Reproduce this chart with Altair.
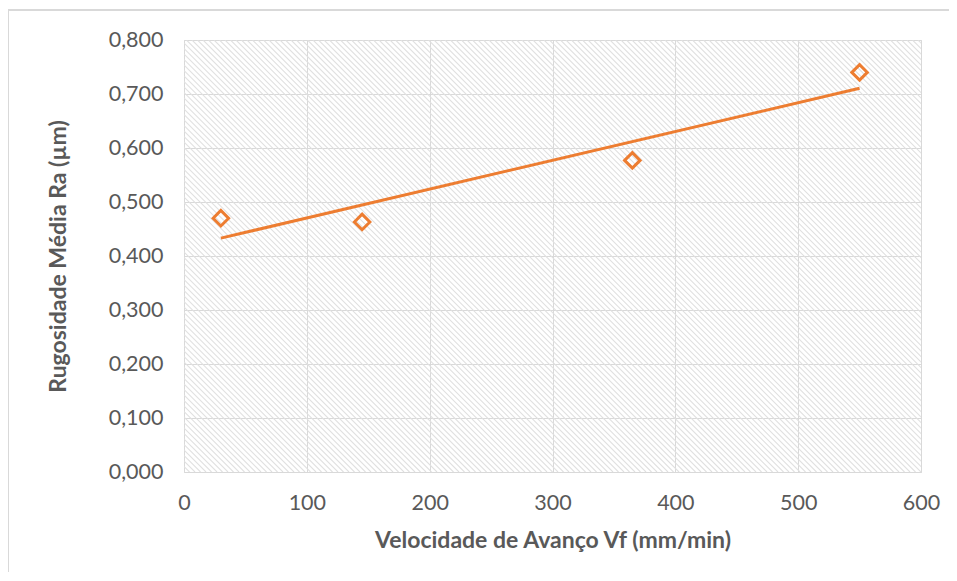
import altair as alt
import pandas as pd
import numpy as np

# ---- data ----
vf = [30, 145, 365, 550]              # Velocidade de Avanço Vf (mm/min)
ra = [0.470, 0.463, 0.577, 0.740]     # Rugosidade Média Ra (µm)
x_ticks = [0, 100, 200, 300, 400, 500, 600]
y_ticks = [0.0, 0.1, 0.2, 0.3, 0.4, 0.5, 0.6, 0.7, 0.8]

ORANGE = "#ED7D31"
GREY_TXT = "#595959"
GRID = "#d9d9d9"
FONT = "Lato"

W, H = 737, 432
XMAX, YMAX = 600, 0.8

df = pd.DataFrame({"vf": vf, "ra": ra})

# decorative diagonal hatch of the plot background (Excel pattern fill)
px_x = W / XMAX
step = 5.5
starts = np.arange(-H, W + step, step)
hatch = pd.DataFrame({
    "hx": starts / px_x,
    "hy": YMAX,
    "hx2": (starts + H) / px_x,
    "hy2": 0.0,
})

xscale = alt.Scale(domain=[0, XMAX], nice=False, zero=True)
yscale = alt.Scale(domain=[0, YMAX], nice=False, zero=True)

xaxis = alt.Axis(
    values=x_ticks, title="Velocidade de Avanço Vf (mm/min)", grid=True,
    gridColor=GRID, gridWidth=1, domain=False, ticks=False, labelFlush=False,
    labelFont=FONT, labelFontSize=21.5, labelColor=GREY_TXT, labelPadding=20,
    titleFont=FONT, titleFontSize=23, titleColor=GREY_TXT, titleFontWeight="bold",
    titlePadding=16,
)
yaxis = alt.Axis(
    values=y_ticks, title="Rugosidade Média Ra (µm)", grid=True,
    gridColor=GRID, gridWidth=1, domain=False, ticks=False, labelFlush=False,
    labelExpr="replace(format(datum.value, '.3f'), '.', ',')",
    labelFont=FONT, labelFontSize=21.5, labelColor=GREY_TXT, labelPadding=21,
    titleFont=FONT, titleFontSize=23, titleColor=GREY_TXT, titleFontWeight="bold",
    titlePadding=38,
)

hatch_layer = alt.Chart(hatch).mark_rule(
    color="#e0e0e0", strokeWidth=1.1, clip=True
).encode(
    x=alt.X("hx:Q", scale=xscale, axis=xaxis),
    x2="hx2:Q",
    y=alt.Y("hy:Q", scale=yscale, axis=yaxis),
    y2="hy2:Q",
)

trend = alt.Chart(df).transform_regression("vf", "ra").mark_line(
    color=ORANGE, strokeWidth=3
).encode(
    x=alt.X("vf:Q", scale=xscale, axis=xaxis),
    y=alt.Y("ra:Q", scale=yscale, axis=yaxis),
)

points = alt.Chart(df).mark_point(
    shape="diamond", filled=False, stroke=ORANGE, strokeWidth=3, size=240, opacity=1
).encode(
    x=alt.X("vf:Q", scale=xscale, axis=xaxis),
    y=alt.Y("ra:Q", scale=yscale, axis=yaxis),
)

frame = alt.Chart(alt.Data(values=[{"a": 1}])).mark_rect(
    filled=False, stroke=GRID, strokeWidth=2, clip=False
).encode(
    x=alt.value(-176), x2=alt.value(W + 60),
    y=alt.value(-30), y2=alt.value(H + 140),
)

chart = alt.layer(frame, hatch_layer, trend, points).properties(
    width=W, height=H,
    autosize=alt.AutoSizeParams(type="none"),
    padding={"left": 176, "top": 32, "right": 28, "bottom": 100},
).configure_view(stroke=GRID, strokeWidth=1).configure(background="white")

chart.save("out.html", embed_options={"renderer": "svg", "actions": False})
